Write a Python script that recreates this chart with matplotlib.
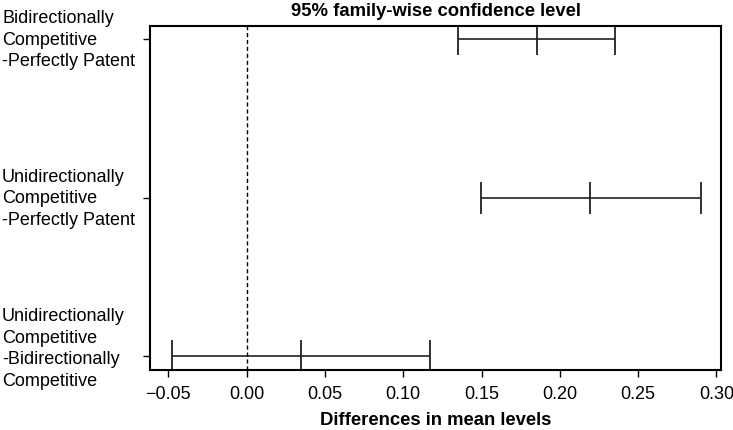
import matplotlib
matplotlib.use("Agg")
import matplotlib.pyplot as plt
import matplotlib.transforms as mtransforms

plt.rcParams['font.family'] = ['Liberation Sans', 'DejaVu Sans']

comparisons = [
    "Unidirectionally\nCompetitive\n-Bidirectionally\nCompetitive",
    "Unidirectionally\nCompetitive\n-Perfectly Patent",
    "Bidirectionally\nCompetitive\n-Perfectly Patent",
]
diff = [0.0347, 0.2194, 0.1852]
lwr = [-0.0479, 0.1496, 0.1347]
upr = [0.1169, 0.2899, 0.2354]
xticks = [-0.05, 0.00, 0.05, 0.10, 0.15, 0.20, 0.25, 0.30]
xtick_labels = ["\u22120.05", "0.00", "0.05", "0.10", "0.15", "0.20", "0.25", "0.30"]

W, H = 733, 431
FS = 13
fig = plt.figure(figsize=(W / 100, H / 100), dpi=100)
ax = fig.add_axes([150 / W, 1 - 370.7 / H, (721 - 150) / W, (370.7 - 27) / H])

col = '#222222'
ypos = list(range(1, len(comparisons) + 1))
for y, l, d, u in zip(ypos, lwr, diff, upr):
    ax.plot([l, u], [y, y], color=col, lw=1.2, solid_capstyle='butt')
    ax.plot([l, d, u], [y, y, y], linestyle='none', marker='|',
            markersize=23, markeredgewidth=1.3, color=col)

ax.axvline(0, color='black', lw=1.0, linestyle=(0, (3, 2)))

ax.set_xlim(-0.0617, 0.3029)
ax.set_ylim(0.916, 3.082)
ax.set_xticks(xticks)
ax.set_xticklabels(xtick_labels, fontsize=FS)
ax.set_yticks(ypos)
ax.set_yticklabels([])
ax.tick_params(axis='both', length=5, width=1.0, color='black')
ax.tick_params(axis='x', pad=6)
for s in ax.spines.values():
    s.set_linewidth(1.5)
    s.set_color('black')

trans = mtransforms.blended_transform_factory(fig.transFigure, ax.transData)
offsets = [-8.5, 0, 0]
for y, lab, off in zip(ypos, comparisons, offsets):
    tr = trans + mtransforms.ScaledTranslation(0, -off / 100, fig.dpi_scale_trans) if off else trans
    ax.text(2 / W, y, lab, transform=tr, ha='left', va='center',
            fontsize=FS, linespacing=1.36)

fig.text((150 + 721) / 2 / W, 1 - 12 / H, "95% family-wise confidence level",
         ha='center', va='center', fontsize=13.3, fontweight='bold')
fig.text((150 + 721) / 2 / W, 1 - 421 / H, "Differences in mean levels",
         ha='center', va='center', fontsize=13.3, fontweight='bold')

fig.savefig("out.png", dpi=100)
